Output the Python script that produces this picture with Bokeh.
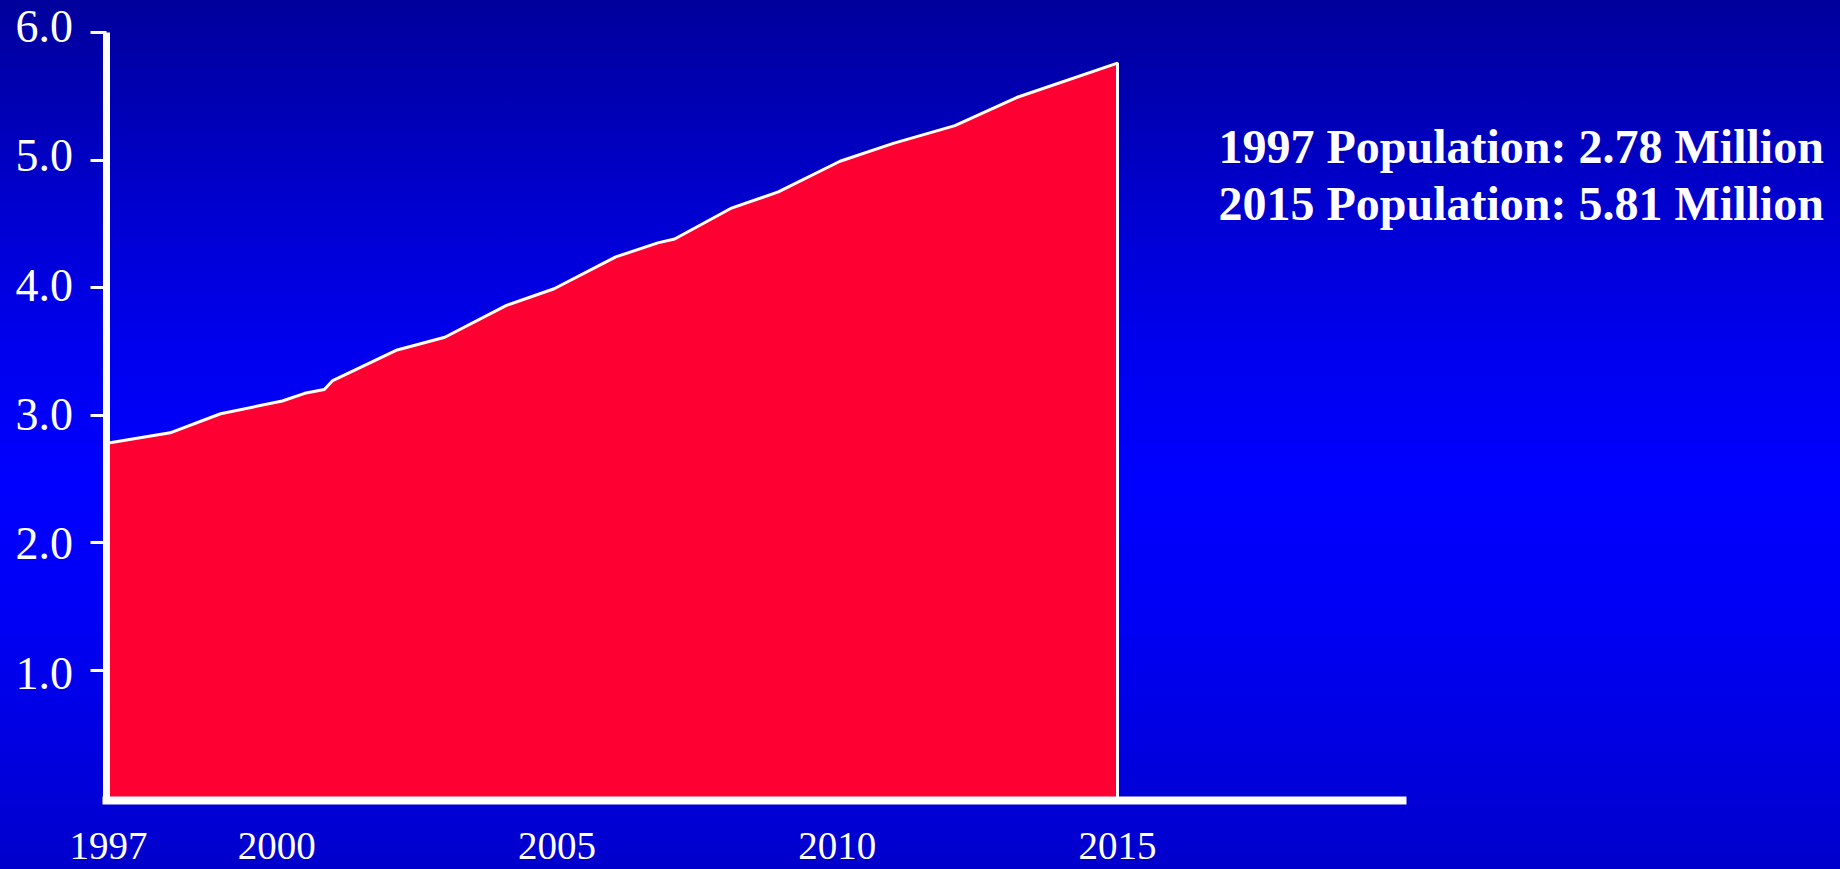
from bokeh.plotting import figure
from bokeh.models import (Range1d, LinearAxis, FixedTicker, NumeralTickFormatter,
                          GlobalInlineStyleSheet)
from bokeh.core.properties import value
from bokeh.embed import file_html
from bokeh.resources import INLINE

# ---------------- data ----------------
years = [1997.0, 1998.1, 1999.0, 2000.1, 2000.5, 2000.85, 2001.0, 2002.0, 2002.15,
         2003.0, 2004.1, 2004.95, 2006.05, 2006.8, 2007.1, 2008.1, 2008.95,
         2010.05, 2011.0, 2012.1, 2013.2, 2015.0]
population = [2.78, 2.86, 3.01, 3.11, 3.17, 3.20, 3.27, 3.48, 3.51,
              3.61, 3.86, 3.99, 4.24, 4.35, 4.38, 4.62, 4.75,
              4.99, 5.13, 5.27, 5.49, 5.76]
y_ticks = [1, 2, 3, 4, 5, 6]
x_ticks = [1997, 2000, 2005, 2010, 2015]
x_tick_labels = ["1997", "2000", "2005", "2010", "2015"]
notes = ["1997 Population: 2.78 Million", "2015 Population: 5.81 Million"]

# ---------------- layout ----------------
W, H = 1832, 869
# reference pixel calibration (page coordinates; the figure sits at the page origin)
X_A_PX, X_B_PX, X_A, X_B = 108.0, 1117.0, 1997.0, 2015.0
Y_A_PX, Y_B_PX, Y_A, Y_B = 797.0, 32.0, 0.0, 6.0
# the value labels of the y axis are spaced a little wider than its ticks
YL_A_PX, YL_B_PX = 801.9, 26.0


def px2x(px):
    return X_A + (px - X_A_PX) * (X_B - X_A) / (X_B_PX - X_A_PX)


def px2y(py):
    return Y_A + (py - Y_A_PX) * (Y_B - Y_A) / (Y_B_PX - Y_A_PX)


def px2yl(py):
    return Y_A + (py - YL_A_PX) * (Y_B - Y_A) / (YL_B_PX - YL_A_PX)


p = figure(width=W, height=H, output_backend="svg", toolbar_location=None,
           title=None, x_axis_type=None, y_axis_type=None, min_border=0,
           x_range=Range1d(px2x(0), px2x(W)),
           y_range=Range1d(px2y(H), px2y(0)))
p.extra_y_ranges = {"ylab": Range1d(px2yl(H), px2yl(0))}
p.outline_line_color = None
p.background_fill_color = None
p.border_fill_color = None
p.background_fill_alpha = 0
p.border_fill_alpha = 0

gradient = ("linear-gradient(to bottom, #00009c 0%, #0000b4 12%, #0000d2 25%, "
            "#0000ee 40%, #0000ff 55%, #0000f6 70%, #0000e2 85%, #0000cc 100%)")
p.stylesheets = [GlobalInlineStyleSheet(
    css=f"html {{ background: {gradient}; min-height: 100%; }} body {{ background: transparent; }}")]

# area
p.varea(x=years, y1=0, y2=population, fill_color="#ff0033", fill_alpha=1.0)
p.line(x=years + [years[-1]], y=population + [0], line_color="white", line_width=3)

serif = "Liberation Serif"

# y axis: line and ticks
yaxis = LinearAxis(fixed_location=px2x(105.5), bounds=(px2y(803), 6.0),
                   ticker=FixedTicker(ticks=y_ticks),
                   major_label_overrides={t: "" for t in y_ticks})
yaxis.axis_line_color = "white"
yaxis.axis_line_width = 7
yaxis.major_tick_line_color = "white"
yaxis.major_tick_line_width = 3
yaxis.major_tick_out = 16
yaxis.major_tick_in = 0
yaxis.minor_tick_line_color = None
p.add_layout(yaxis, "left")

# y axis: value labels
ylab = LinearAxis(y_range_name="ylab", fixed_location=px2x(105.5),
                  ticker=FixedTicker(ticks=y_ticks),
                  formatter=NumeralTickFormatter(format="0.0"))
ylab.axis_line_color = None
ylab.major_tick_line_color = None
ylab.minor_tick_line_color = None
ylab.major_tick_out = 0
ylab.major_tick_in = 0
ylab.major_label_standoff = 33
ylab.major_label_text_color = "white"
ylab.major_label_text_font = serif
ylab.major_label_text_font_size = "46px"
p.add_layout(ylab, "left")

# x axis: line and year labels
xaxis = LinearAxis(fixed_location=px2y(799.5), bounds=(px2x(102), px2x(1406)),
                   ticker=FixedTicker(ticks=x_ticks),
                   major_label_overrides={t: s for t, s in zip(x_ticks, x_tick_labels)})
xaxis.axis_line_color = "white"
xaxis.axis_line_width = 8
xaxis.major_tick_line_color = None
xaxis.minor_tick_line_color = None
xaxis.major_tick_out = 0
xaxis.major_tick_in = 0
xaxis.major_label_standoff = 33
xaxis.major_label_text_color = "white"
xaxis.major_label_text_font = serif
xaxis.major_label_text_font_size = "39px"
p.add_layout(xaxis, "below")

# annotation text
p.text(x=[px2x(1218)] * len(notes), y=[px2y(146.0), px2y(202.6)], text=notes,
       text_color="white", text_font=value(serif), text_font_style="bold",
       text_font_size="48px", text_align="left", text_baseline="middle")

open("out.html", "w").write(file_html(p, INLINE))
